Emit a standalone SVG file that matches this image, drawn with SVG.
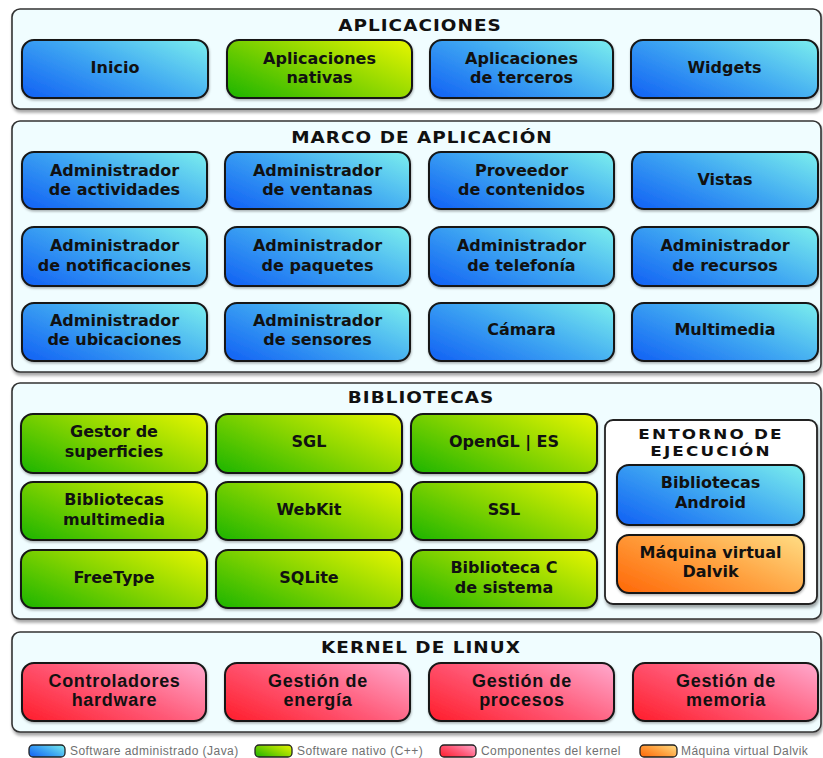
<svg xmlns="http://www.w3.org/2000/svg" width="823" height="758" viewBox="0 0 823 758">
<defs>
<linearGradient id="gBlue" x1="0" y1="0.85" x2="1" y2="0.15">
<stop offset="0" stop-color="#1668f4"/><stop offset="0.5" stop-color="#3ea6f2"/><stop offset="1" stop-color="#74e6ee"/>
</linearGradient>
<linearGradient id="gGreen" x1="0" y1="0.85" x2="1" y2="0.15">
<stop offset="0" stop-color="#28b800"/><stop offset="0.5" stop-color="#86d400"/><stop offset="1" stop-color="#dcf200"/>
</linearGradient>
<linearGradient id="gRed" x1="0" y1="0.85" x2="1" y2="0.15">
<stop offset="0" stop-color="#ff2434"/><stop offset="0.5" stop-color="#ff5a78"/><stop offset="1" stop-color="#ffa0c4"/>
</linearGradient>
<linearGradient id="gOrange" x1="0" y1="0.85" x2="1" y2="0.15">
<stop offset="0" stop-color="#ff6e0e"/><stop offset="0.5" stop-color="#ffa03e"/><stop offset="1" stop-color="#ffd67c"/>
</linearGradient>
<filter id="shadow" x="-5%" y="-10%" width="110%" height="130%">
<feDropShadow dx="1" dy="3" stdDeviation="1.5" flood-color="#000" flood-opacity="0.35"/>
</filter>
<filter id="bshadow" x="-5%" y="-10%" width="110%" height="130%">
<feDropShadow dx="0.5" dy="1.5" stdDeviation="1" flood-color="#000" flood-opacity="0.3"/>
</filter>
</defs>
<style>
.panel{fill:#f0fdff;stroke:#333;stroke-width:1.6;filter:url(#shadow)}
.inner{fill:#ffffff;stroke:#222;stroke-width:1.8;filter:url(#shadow)}
.box{stroke:#151515;stroke-width:2;filter:url(#bshadow)}
.blue{fill:url(#gBlue)}
.green{fill:url(#gGreen)}
.red{fill:url(#gRed)}
.orange{fill:url(#gOrange)}
.sw{stroke:#222;stroke-width:1.3}
.t{font-family:"DejaVu Sans","Liberation Sans",sans-serif;font-weight:bold;font-size:16px;text-anchor:middle;fill:#111}
.k{font-family:"Liberation Sans",Arial,sans-serif;font-weight:bold;font-size:18px;letter-spacing:0.7px;text-anchor:middle;fill:#111}
.h{font-family:"DejaVu Sans","Liberation Sans",sans-serif;font-weight:bold;font-size:16px;letter-spacing:0.9px;text-anchor:middle;fill:#111}
.he{font-family:"DejaVu Sans","Liberation Sans",sans-serif;font-weight:bold;font-size:14px;letter-spacing:1.8px;text-anchor:middle;fill:#111}
.lg{font-family:"Liberation Sans",Arial,sans-serif;font-size:12px;letter-spacing:0.45px;fill:#707070}
</style>
<rect width="823" height="758" fill="#ffffff"/>

<!-- APLICACIONES -->
<g id="aplicaciones">
<rect class="panel" x="12" y="9" width="809" height="100" rx="8"/>
<text class="h" transform="translate(420,31) scale(1.15,1)">APLICACIONES</text>
</g>
<g id="inicio"><rect class="box blue" x="22" y="40" width="186" height="58" rx="12"/><text class="t" x="115" y="73">Inicio</text></g>
<g id="apps-nativas"><rect class="box green" x="227" y="40" width="185" height="58" rx="12"/><text class="t" x="319.5" y="64">Aplicaciones</text><text class="t" x="319.5" y="83">nativas</text></g>
<g id="apps-terceros"><rect class="box blue" x="430" y="40" width="183" height="58" rx="12"/><text class="t" x="521.5" y="64">Aplicaciones</text><text class="t" x="521.5" y="83">de terceros</text></g>
<g id="widgets"><rect class="box blue" x="631" y="40" width="187" height="58" rx="12"/><text class="t" x="724.5" y="73">Widgets</text></g>

<!-- MARCO DE APLICACION -->
<g id="marco">
<rect class="panel" x="12" y="121" width="809" height="251" rx="8"/>
<text class="h" transform="translate(422,143) scale(1.15,1)">MARCO DE APLICACIÓN</text>
</g>
<g id="adm-actividades"><rect class="box blue" x="22" y="152" width="185" height="57" rx="12"/><text class="t" x="114.5" y="176">Administrador</text><text class="t" x="114.5" y="195">de actividades</text></g>
<g id="adm-ventanas"><rect class="box blue" x="225" y="152" width="185" height="57" rx="12"/><text class="t" x="317.5" y="176">Administrador</text><text class="t" x="317.5" y="195">de ventanas</text></g>
<g id="proveedor"><rect class="box blue" x="429" y="152" width="185" height="57" rx="12"/><text class="t" x="521.5" y="176">Proveedor</text><text class="t" x="521.5" y="195">de contenidos</text></g>
<g id="vistas"><rect class="box blue" x="632" y="152" width="186" height="57" rx="12"/><text class="t" x="725" y="185">Vistas</text></g>

<g id="adm-notificaciones"><rect class="box blue" x="22" y="227" width="185" height="59" rx="12"/><text class="t" x="114.5" y="251">Administrador</text><text class="t" x="114.5" y="271">de notificaciones</text></g>
<g id="adm-paquetes"><rect class="box blue" x="225" y="227" width="185" height="59" rx="12"/><text class="t" x="317.5" y="251">Administrador</text><text class="t" x="317.5" y="271">de paquetes</text></g>
<g id="adm-telefonia"><rect class="box blue" x="429" y="227" width="185" height="59" rx="12"/><text class="t" x="521.5" y="251">Administrador</text><text class="t" x="521.5" y="271">de telefonía</text></g>
<g id="adm-recursos"><rect class="box blue" x="632" y="227" width="186" height="59" rx="12"/><text class="t" x="725" y="251">Administrador</text><text class="t" x="725" y="271">de recursos</text></g>

<g id="adm-ubicaciones"><rect class="box blue" x="22" y="303" width="185" height="58" rx="12"/><text class="t" x="114.5" y="326">Administrador</text><text class="t" x="114.5" y="345">de ubicaciones</text></g>
<g id="adm-sensores"><rect class="box blue" x="225" y="303" width="185" height="58" rx="12"/><text class="t" x="317.5" y="326">Administrador</text><text class="t" x="317.5" y="345">de sensores</text></g>
<g id="camara"><rect class="box blue" x="429" y="303" width="185" height="58" rx="12"/><text class="t" x="521.5" y="335">Cámara</text></g>
<g id="multimedia"><rect class="box blue" x="632" y="303" width="186" height="58" rx="12"/><text class="t" x="725" y="335">Multimedia</text></g>

<!-- BIBLIOTECAS -->
<g id="bibliotecas">
<rect class="panel" x="12" y="383" width="809" height="236" rx="8"/>
<text class="h" transform="translate(421,403) scale(1.15,1)">BIBLIOTECAS</text>
</g>
<g id="gestor-superficies"><rect class="box green" x="21" y="414" width="186" height="59" rx="12"/><text class="t" x="114" y="437">Gestor de</text><text class="t" x="114" y="457">superficies</text></g>
<g id="sgl"><rect class="box green" x="216" y="414" width="186" height="59" rx="12"/><text class="t" x="309" y="447">SGL</text></g>
<g id="opengl"><rect class="box green" x="411" y="414" width="186" height="59" rx="12"/><text class="t" x="504" y="447">OpenGL | ES</text></g>

<g id="bib-multimedia"><rect class="box green" x="21" y="482" width="186" height="58" rx="12"/><text class="t" x="114" y="505">Bibliotecas</text><text class="t" x="114" y="525">multimedia</text></g>
<g id="webkit"><rect class="box green" x="216" y="482" width="186" height="58" rx="12"/><text class="t" x="309" y="515">WebKit</text></g>
<g id="ssl"><rect class="box green" x="411" y="482" width="186" height="58" rx="12"/><text class="t" x="504" y="515">SSL</text></g>

<g id="freetype"><rect class="box green" x="21" y="550" width="186" height="58" rx="12"/><text class="t" x="114" y="583">FreeType</text></g>
<g id="sqlite"><rect class="box green" x="216" y="550" width="186" height="58" rx="12"/><text class="t" x="309" y="583">SQLite</text></g>
<g id="libc"><rect class="box green" x="411" y="550" width="186" height="58" rx="12"/><text class="t" x="504" y="573">Biblioteca C</text><text class="t" x="504" y="593">de sistema</text></g>

<!-- ENTORNO DE EJECUCION -->
<g id="entorno">
<rect class="inner" x="605" y="420" width="212" height="184" rx="8"/>
<text class="he" transform="translate(711,439) scale(1.2,1)">ENTORNO DE</text>
<text class="he" transform="translate(711,456) scale(1.2,1)">EJECUCIÓN</text>
</g>
<g id="bib-android"><rect class="box blue" x="617" y="465" width="187" height="60" rx="12"/><text class="t" x="710.5" y="488">Bibliotecas</text><text class="t" x="710.5" y="508">Android</text></g>
<g id="dalvik"><rect class="box orange" x="617" y="535" width="187" height="58" rx="12"/><text class="t" x="710.5" y="558">Máquina virtual</text><text class="t" x="710.5" y="577">Dalvik</text></g>

<!-- KERNEL -->
<g id="kernel">
<rect class="panel" x="12" y="632" width="809" height="100" rx="8"/>
<text class="h" transform="translate(421,653) scale(1.15,1)">KERNEL DE LINUX</text>
</g>
<g id="controladores"><rect class="box red" x="22" y="663" width="184" height="58" rx="12"/><text class="k" x="114.5" y="687">Controladores</text><text class="k" x="114.5" y="706">hardware</text></g>
<g id="gestion-energia"><rect class="box red" x="225" y="663" width="185" height="58" rx="12"/><text class="k" x="318" y="687">Gestión de</text><text class="k" x="318" y="706">energía</text></g>
<g id="gestion-procesos"><rect class="box red" x="429" y="663" width="185" height="58" rx="12"/><text class="k" x="522" y="687">Gestión de</text><text class="k" x="522" y="706">procesos</text></g>
<g id="gestion-memoria"><rect class="box red" x="633" y="663" width="185" height="58" rx="12"/><text class="k" x="726" y="687">Gestión de</text><text class="k" x="726" y="706">memoria</text></g>

<!-- LEGEND -->
<g id="legend">
<rect class="sw blue" x="29" y="745" width="36" height="12" rx="4"/>
<text class="lg" x="70" y="755">Software administrado (Java)</text>
<rect class="sw green" x="255" y="745" width="37" height="12" rx="4"/>
<text class="lg" x="297" y="755">Software nativo (C++)</text>
<rect class="sw red" x="440" y="745" width="36" height="12" rx="4"/>
<text class="lg" x="481" y="755">Componentes del kernel</text>
<rect class="sw orange" x="640" y="745" width="37" height="12" rx="4"/>
<text class="lg" x="681" y="755">Máquina virtual Dalvik</text>
</g>
</svg>
